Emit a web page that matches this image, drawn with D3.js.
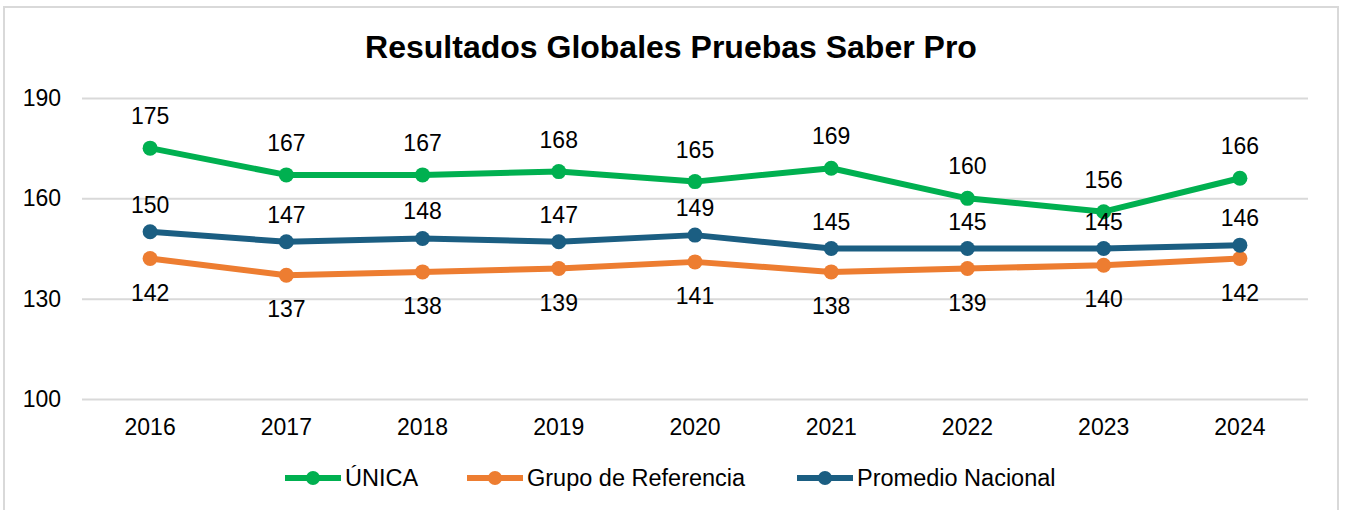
<!DOCTYPE html>
<html><head><meta charset="utf-8">
<script src="https://cdn.jsdelivr.net/npm/d3@7"></script>
<style>body{margin:0;background:#fff}svg{display:block;font-family:"Liberation Sans",Arial,sans-serif}</style>
</head><body>
<svg id="c" width="1345" height="510"></svg>
<script>
const years = ["2016","2017","2018","2019","2020","2021","2022","2023","2024"];
const unica = [175,167,167,168,165,169,160,156,166];
const grupo = [142,137,138,139,141,138,139,140,142];
const nacional = [150,147,148,147,149,145,145,145,146];
const yTicks = [100,130,160,190];
const seriesNames = ["ÚNICA","Grupo de Referencia","Promedio Nacional"];
const colors = ["#00B050","#ED7D31","#1B5E82"];

const svg = d3.select("#c");
svg.append("rect").attr("x",4).attr("y",7).attr("width",1334).attr("height",510).attr("fill","#fff").attr("stroke","#d9d9d9").attr("stroke-width",2);

const x = d3.scaleBand().domain(years).range([82,1308]);
const y = d3.scaleLinear().domain([100,190]).range([399,98]);

svg.append("text").attr("x",671).attr("y",58).attr("text-anchor","middle")
  .attr("font-size",32).attr("font-weight","bold").attr("fill","#000").text("Resultados Globales Pruebas Saber Pro");

const ya = svg.append("g").attr("transform","translate(82,0)")
  .call(d3.axisLeft(y).tickValues(yTicks).tickSize(-1226).tickPadding(21));
ya.select(".domain").remove();
ya.selectAll(".tick line").attr("stroke","#d9d9d9").attr("stroke-width",2);
ya.selectAll(".tick text").attr("font-size",23).attr("fill","#000").attr("font-family","Liberation Sans, Arial, sans-serif");

const xa = svg.append("g").attr("transform","translate(0,399)")
  .call(d3.axisBottom(x).tickSize(0).tickPadding(20));
xa.select(".domain").remove();
xa.selectAll(".tick text").attr("font-size",23).attr("fill","#000").attr("font-family","Liberation Sans, Arial, sans-serif");

const data = [unica, grupo, nacional];
const labelOff = [-24, 42, -19];
const line = d3.line().x((d,i)=>x(years[i])+x.bandwidth()/2).y(d=>y(d));
data.forEach((vals,si)=>{
  const g = svg.append("g");
  g.append("path").datum(vals).attr("d",line).attr("fill","none").attr("stroke",colors[si]).attr("stroke-width",6).attr("stroke-linejoin","round");
  g.selectAll("circle").data(vals).join("circle")
    .attr("cx",(d,i)=>x(years[i])+x.bandwidth()/2).attr("cy",d=>y(d)).attr("r",7.5).attr("fill",colors[si]);
});
data.forEach((vals,si)=>{
  svg.append("g").selectAll("text").data(vals).join("text")
    .attr("x",(d,i)=>x(years[i])+x.bandwidth()/2).attr("y",d=>y(d)+labelOff[si])
    .attr("text-anchor","middle").attr("font-size",23).attr("fill","#000").text(d=>d);
});

// legend
const legX = [285, 467, 797];
const leg = svg.append("g");
seriesNames.forEach((n,i)=>{
  const lx = legX[i];
  leg.append("line").attr("x1",lx).attr("x2",lx+56).attr("y1",478).attr("y2",478).attr("stroke",colors[i]).attr("stroke-width",6);
  leg.append("circle").attr("cx",lx+28).attr("cy",478).attr("r",7).attr("fill",colors[i]);
  leg.append("text").attr("x",lx+60).attr("y",486).attr("font-size",23.5).attr("fill","#000").text(n);
});
</script>
</body></html>
